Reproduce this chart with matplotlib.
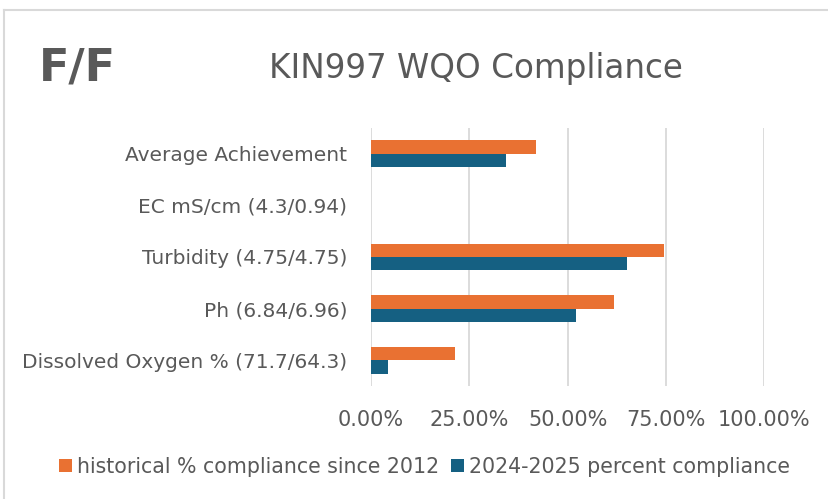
import matplotlib
matplotlib.use("Agg")
import matplotlib.pyplot as plt
from matplotlib.lines import Line2D
import numpy as np

categories = ["Dissolved Oxygen % (71.7/64.3)", "Ph (6.84/6.96)", "Turbidity (4.75/4.75)",
              "EC mS/cm (4.3/0.94)", "Average Achievement"]
historical = [21.4, 61.8, 74.4, 0.0, 41.9]
current = [4.4, 52.2, 65.2, 0.0, 34.2]
xticks = [0, 25, 50, 75, 100]
xticklabels = ["0.00%", "25.00%", "50.00%", "75.00%", "100.00%"]
series_names = ["historical % compliance since 2012", "2024-2025 percent compliance"]

orange = "#E97132"
blue = "#156082"
gray = "#595959"
plt.rcParams["font.family"] = ["DejaVu Sans"]

fig = plt.figure(figsize=(8.29, 4.99), dpi=100)
W, H = 829, 499
# chart-area border (only top and left edges visible in the crop)
fig.add_artist(Line2D([4.5 / W, 1.0], [1 - 9.5 / H, 1 - 9.5 / H], transform=fig.transFigure,
                      color="#D9D9D9", linewidth=1.5))
fig.add_artist(Line2D([4.5 / W, 4.5 / W], [0.0, 1 - 9.5 / H], transform=fig.transFigure,
                      color="#D9D9D9", linewidth=1.5))

ax = fig.add_axes([0.4475, 0.2265, 0.4745, 0.517])

y = np.arange(len(categories))
h = 0.26
ax.barh(y + h / 2, historical, height=h, color=orange, label=series_names[0])
ax.barh(y - h / 2, current, height=h, color=blue, label=series_names[1])

ax.set_xlim(0, 100)
ax.set_ylim(-0.5, len(categories) - 0.5)
ax.set_xticks(xticks)
ax.set_xticklabels(xticklabels, fontsize=15, color=gray)
ax.tick_params(axis="both", length=0)
ax.tick_params(axis="x", pad=17)
ax.set_yticks(y)
ax.set_yticklabels(categories, fontsize=14.5, color=gray)
ax.tick_params(axis="y", pad=17)
ax.grid(axis="x", color="#D9D9D9", linewidth=1.3)
ax.set_axisbelow(True)
for s in ax.spines.values():
    s.set_visible(False)

fig.text(0.047, 1 - 81 / H, "F/F", fontsize=32, fontweight="bold", color=gray, va="baseline")
fig.text(0.574, 0.862, "KIN997 WQO Compliance", fontsize=23.5, color=gray, ha="center", va="center")

ax.legend(loc="center", bbox_to_anchor=(0.512, 0.064), bbox_transform=fig.transFigure,
          ncol=2, frameon=False, fontsize=14.8, labelcolor=gray, handlelength=0.6,
          handleheight=0.6, handletextpad=0.25, columnspacing=0.6)

fig.savefig("out.png", dpi=100)
